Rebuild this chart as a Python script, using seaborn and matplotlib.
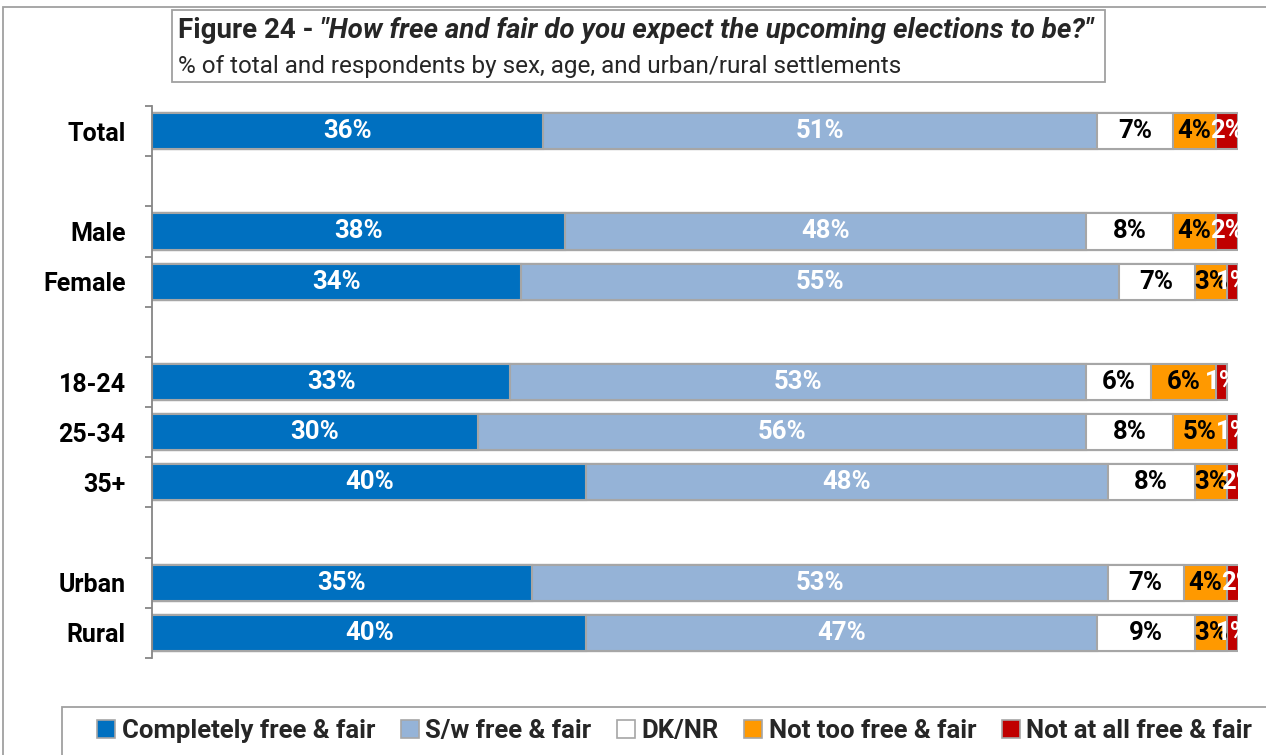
import matplotlib
matplotlib.use("Agg")
import matplotlib.pyplot as plt
from matplotlib.patches import Rectangle, Patch
import seaborn as sns
import pandas as pd
import numpy as np

# Survey groups and the share of answers in each response category (%)
groups = ["Total", "Male", "Female", "18-24", "25-34", "35+", "Urban", "Rural"]
completely = [36, 38, 34, 33, 30, 40, 35, 40]
somewhat = [51, 48, 55, 53, 56, 48, 53, 47]
dk_nr = [7, 8, 7, 6, 8, 8, 7, 9]
not_too = [4, 4, 3, 6, 5, 3, 4, 3]
not_at_all = [2, 2, 1, 1, 1, 2, 2, 1]

series_names = ["Completely free & fair", "S/w free & fair", "DK/NR",
                "Not too free & fair", "Not at all free & fair"]
series_values = [completely, somewhat, dk_nr, not_too, not_at_all]
series_colors = ["#0070C0", "#95B3D7", "#FFFFFF", "#FF9900", "#C00000"]
label_colors = ["white", "white", "black", "black", "white"]

# Row order, with empty spacer rows between the groupings
row_order = ["Total", " ", "Male", "Female", "  ", "18-24", "25-34", "35+",
             "   ", "Urban", "Rural"]

title_main = "Figure 24 - "
title_quote = "\"How free and fair do you expect the upcoming elections to be?\""
subtitle = "% of total and respondents by sex, age, and urban/rural settlements"

sns.set_theme(style="white")
plt.rcParams["font.family"] = ["Roboto", "DejaVu Sans"]

df = pd.DataFrame({"group": groups})
vals = np.array(series_values, dtype=float)
cum = np.cumsum(vals, axis=0)
for k in range(len(series_names)):
    df[f"cum{k}"] = cum[k]

W, H = 1266, 755
fig = plt.figure(figsize=(W / 100, H / 100), dpi=100)
ax = fig.add_axes([152 / W, 1 - 658 / H, (1238 - 152) / W, (658 - 106) / H])

edge = "#A6A6A6"
# Stacked bars: draw cumulative totals from the outermost segment inwards
for k in reversed(range(len(series_names))):
    sns.barplot(data=df, x=f"cum{k}", y="group", order=row_order, orient="h",
                color=series_colors[k], saturation=1, errorbar=None,
                width=0.72, edgecolor=edge, linewidth=1.5, ax=ax)

ax.set_xlim(0, 100)
ax.set_ylim(len(row_order) - 0.5, -0.5)

# Value labels centred in each segment
for k in range(len(series_names)):
    for i, g in enumerate(groups):
        v = vals[k, i]
        left = cum[k, i] - v
        y = row_order.index(g)
        ax.text(left + v / 2, y, f"{int(v)}%", ha="center", va="center",
                color=label_colors[k], fontsize=18.5, fontweight="bold",
                clip_on=False)

# Axis styling
ax.set_xlabel("")
ax.set_ylabel("")
ax.set_xticks([])
for s in ["top", "right", "bottom"]:
    ax.spines[s].set_visible(False)
ax.spines["left"].set_color("#868686")
ax.spines["left"].set_linewidth(1.3)
ax.set_yticks(range(len(row_order)))
ax.set_yticklabels(row_order, fontsize=18, fontweight="bold", color="black")
ax.tick_params(axis="y", which="major", length=0, pad=19)
ax.set_yticks(np.arange(-0.5, len(row_order), 1.0), minor=True)
ax.tick_params(axis="y", which="minor", length=5, width=1.3, color="#868686",
               direction="out", left=True)

# Outer frame of the chart area
fig.patches.append(Rectangle((3 / W, -0.02), 1.0, 1 - 7 / H + 0.02,
                             transform=fig.transFigure, fill=False,
                             edgecolor="#A0A0A0", linewidth=1.3))

# Title box
fig.patches.append(Rectangle((172 / W, 1 - 82 / H), (1105 - 172) / W, 72 / H,
                             transform=fig.transFigure, facecolor="white",
                             edgecolor="#A0A0A0", linewidth=1.3))
t1 = fig.text(178 / W, 1 - 31 / H, title_main, fontsize=20, fontweight="bold",
              ha="left", va="center")
fig.canvas.draw()
bb = t1.get_window_extent(renderer=fig.canvas.get_renderer())
fig.text(bb.x1 / W, 1 - 31 / H, title_quote, fontsize=20, fontweight="bold",
         fontstyle="italic", ha="left", va="center")
fig.text(178 / W, 1 - 66 / H, subtitle, fontsize=17.5, ha="left", va="center")

# Legend box and entries
fig.patches.append(Rectangle((62 / W, -0.02), 1.0, (H - 707) / H + 0.02,
                             transform=fig.transFigure, facecolor="white",
                             edgecolor="#A0A0A0", linewidth=1.3))
handles = [Patch(facecolor=c, edgecolor=edge, linewidth=1.2) for c in series_colors]
leg = fig.legend(handles, series_names, loc="center left", ncol=5,
                 bbox_to_anchor=(74 / W, 1 - 731 / H), frameon=False,
                 prop={"weight": "bold", "size": 18.5},
                 handlelength=0.7, handleheight=0.7, handletextpad=0.25,
                 columnspacing=1.0)

fig.savefig("out.png", dpi=100)
